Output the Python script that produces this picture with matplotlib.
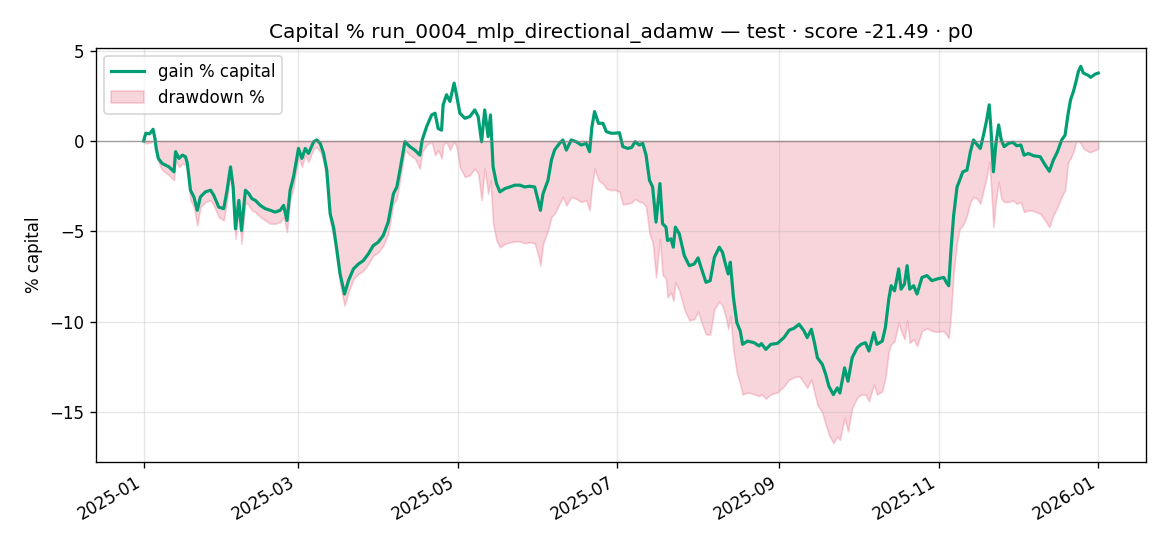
import numpy as np
import pandas as pd
import matplotlib
matplotlib.use("Agg")
import matplotlib.pyplot as plt
import matplotlib.dates as mdates

# days since 2025-01-01
days = [0.0, 0.8, 2.3, 3.6, 4.4, 4.8, 5.6, 7.1, 9.7, 11.6,
        12.2, 13.5, 14.8, 16.0, 16.7, 17.9, 19.2, 20.5, 21.7, 23.6,
        25.6, 26.8, 28.7, 30.6, 31.9, 33.2, 34.2, 35.1, 36.4, 37.4,
        38.9, 40.2, 41.4, 42.7, 44.6, 46.5, 48.4, 50.3, 52.2, 53.5,
        54.8, 56.0, 57.3, 59.2,
        60.5, 61.8, 63.0, 65.0, 66.2, 67.5, 68.8, 70.0, 71.3, 72.6,
        73.9, 75.1, 76.8, 78.3, 80.2, 82.1, 84.0, 85.9, 87.8, 89.7,
        91.6, 93.5, 95.5, 96.8, 98.0, 99.9, 101.8, 103.7, 105.6, 106.5,
        108.2, 110.1, 111.4, 112.6, 113.9, 114.5, 115.8, 117.1, 118.7, 119.6,
        120.9,
        122.8, 124.7, 126.6, 127.9, 129.2, 130.4, 131.7, 132.6, 133.6, 134.9,
        136.2, 138.1, 140.0, 141.9, 143.8, 145.7, 147.6, 149.5, 150.8, 151.7,
        152.7, 154.6, 155.9, 157.1, 159.0, 160.3, 161.6, 163.5, 165.4, 167.3,
        169.2, 170.5, 171.4, 172.4, 173.9, 175.6, 176.9, 178.8, 180.0, 181.9,
        183.2, 185.1, 186.6, 187.9, 189.5, 190.8, 192.1, 193.4, 194.6, 195.9,
        197.4, 198.4, 199.7, 200.3, 201.6, 202.5, 203.3, 204.8, 206.7, 208.6,
        210.5, 212.0, 213.1, 215.0, 216.6, 218.2, 220.1, 221.3, 222.6, 223.5,
        224.3, 225.5, 226.8, 228.1, 229.0, 230.9, 233.4, 235.3, 236.2, 237.9,
        239.8, 242.3,
        244.8, 246.8, 248.7, 250.6, 252.5, 253.7, 255.3, 256.6, 257.6, 259.5,
        260.8, 262.0, 263.7, 265.2, 266.2, 268.0, 269.3, 270.9, 272.8, 274.3,
        276.0, 277.3, 279.2, 280.4, 282.4, 283.6, 284.9, 285.8, 287.1, 288.7,
        289.6, 290.9, 291.9, 292.9, 294.4, 295.7, 297.6, 299.5, 301.4, 303.3,
        305.9, 306.9, 307.8, 308.7, 309.7, 311.0, 312.0, 313.2, 314.8, 316.1,
        317.3, 318.6, 319.9, 321.1, 322.2, 323.3, 323.9, 324.9, 325.8, 326.9,
        327.9, 329.0, 330.7, 332.3, 333.8, 335.4, 336.6, 338.3, 340.2, 342.8,
        344.7, 346.3, 347.8, 349.4, 351.0, 352.3, 353.5, 354.4, 355.5, 356.5,
        357.4, 358.3, 359.3, 361.2, 362.1, 363.8, 365.0]

gain = [0.0, 0.43, 0.40, 0.65, 0.06, -0.41, -0.96, -1.24, -1.43, -1.70,
        -0.59, -0.96, -0.78, -0.87, -1.24, -2.72, -3.09, -3.83, -3.09, -2.81,
        -2.72, -3.00, -3.65, -3.74, -2.72, -1.43, -2.54, -4.85, -3.28, -4.94,
        -2.72, -2.91, -3.19, -3.28, -3.56, -3.74, -3.83, -3.93, -3.83, -3.56,
        -4.39, -2.72, -1.98, -0.41,
        -0.96, -0.41, -0.69, -0.04, 0.06, -0.13, -0.69, -1.61, -4.02, -4.76,
        -6.06, -7.35, -8.46, -7.72, -7.07, -6.80, -6.61, -6.24, -5.78, -5.59,
        -5.22, -4.48, -2.91, -2.54, -1.61, -0.04, -0.31, -0.50, -0.78, 0.06,
        0.80, 1.44, 1.54, 0.69, 0.60, 2.00, 2.56, 2.19, 3.20, 2.56,
        1.54,
        1.26, 1.35, 1.72, 1.35, -0.04, 1.72, 0.24, 1.44, -1.43, -2.35,
        -2.81, -2.63, -2.54, -2.44, -2.44, -2.54, -2.50, -2.54, -3.28, -3.83,
        -2.91, -2.17, -1.06, -0.50, -0.13, 0.06, -0.50, 0.06, -0.04, -0.22,
        -0.13, -0.59, 0.80, 1.63, 0.98, 0.98, 0.52, 0.43, 0.43, 0.46,
        -0.31, -0.41, -0.35, -0.04, -0.22, -0.13, -0.78, -2.17, -2.54, -4.48,
        -2.35, -4.57, -4.76, -5.50, -5.41, -5.87, -4.76, -5.13, -6.33, -6.89,
        -6.80, -6.46, -6.98, -7.81, -7.72, -6.43, -5.87, -6.15, -6.89, -7.35,
        -6.70, -8.65, -10.04, -10.50, -11.24, -11.06, -11.15, -11.33, -11.20, -11.52,
        -11.24, -11.19,
        -10.87, -10.46, -10.35, -10.13, -10.50, -10.87, -10.41, -11.24, -11.98, -12.35,
        -12.91, -13.56, -14.02, -13.65, -13.93, -12.54, -13.28, -11.98, -11.43, -11.24,
        -11.15, -11.61, -10.59, -11.24, -11.06, -10.31, -8.74, -8.00, -8.28, -7.07,
        -8.19, -7.91, -6.89, -8.19, -8.00, -8.46, -7.54, -7.44, -7.72, -7.63,
        -7.54, -7.81, -8.00, -5.96, -4.11, -2.54, -2.17, -1.70, -1.61, -0.59,
        0.06, -0.19, -0.41, 0.33, 1.07, 2.00, 0.80, -1.70, -0.22, 0.89,
        0.06, -0.31, -0.13, -0.07, -0.26, -0.22, -0.78, -0.69, -0.81, -0.87,
        -1.33, -1.67, -1.06, -0.59, 0.06, 0.33, 1.54, 2.28, 2.74, 3.30,
        3.85, 4.13, 3.76, 3.63, 3.52, 3.70, 3.76]

drawdown = [0.0, -0.13, -0.09, -0.03, -0.13, -0.69, -1.15, -1.61, -1.89, -2.17,
            -1.06, -1.43, -1.24, -1.33, -1.70, -3.28, -3.65, -4.67, -3.65, -3.37,
            -3.28, -3.56, -4.20, -4.39, -3.28, -1.89, -3.09, -5.41, -3.83, -5.69,
            -3.37, -3.56, -3.83, -3.93, -4.20, -4.39, -4.57, -4.57, -4.48, -4.20,
            -5.04, -3.28, -2.54, -0.87,
            -1.43, -0.78, -1.15, -0.41, -0.35, -0.59, -1.15, -2.17, -4.48, -5.31,
            -6.61, -7.91, -9.11, -8.37, -7.63, -7.35, -7.17, -6.80, -6.33, -6.15,
            -5.78, -5.13, -3.46, -3.19, -2.17, -0.50, -0.78, -0.96, -1.52, -0.59,
            -0.22, -0.04, -0.78, -0.50, -0.96, -0.22, -0.04, -0.50, -0.04, -0.30,
            -1.43,
            -1.98, -1.89, -1.52, -1.80, -3.28, -1.52, -2.91, -2.17, -4.57, -5.50,
            -5.87, -5.69, -5.60, -5.55, -5.55, -5.65, -5.60, -5.65, -6.30, -6.89,
            -5.69, -4.94, -4.20, -4.02, -3.46, -3.09, -3.56, -3.09, -3.19, -3.37,
            -3.28, -3.83, -2.54, -1.52, -2.17, -2.35, -2.63, -2.72, -2.69, -2.80,
            -3.50, -3.46, -3.40, -3.20, -3.35, -3.40, -3.63, -5.13, -5.60, -7.54,
            -5.41, -7.40, -7.60, -8.65, -8.37, -8.83, -7.81, -8.28, -9.30, -9.91,
            -9.85, -9.43, -9.95, -10.69, -10.69, -9.30, -8.87, -9.11, -9.76, -10.41,
            -9.67, -11.61, -12.81, -13.46, -14.02, -13.90, -14.00, -14.10, -14.00, -14.24,
            -14.00, -13.90,
            -13.56, -13.19, -13.06, -13.00, -13.37, -13.65, -13.19, -14.02, -14.57, -15.04,
            -15.69, -16.24, -16.70, -16.33, -16.52, -15.31, -16.06, -14.76, -14.20, -14.02,
            -14.02, -14.39, -13.46, -14.02, -13.83, -13.09, -11.61, -11.24, -11.06, -10.04,
            -10.50, -10.96, -9.91, -11.15, -10.96, -11.33, -10.50, -10.35, -10.50, -10.55,
            -10.50, -10.70, -10.90, -9.50, -7.26, -5.59, -4.85, -4.67, -4.11, -3.37,
            -3.09, -3.19, -3.46, -2.72, -2.07, -1.15, -2.26, -4.76, -3.37, -2.26,
            -3.19, -3.37, -3.37, -3.28, -3.46, -3.37, -3.93, -3.83, -3.87, -4.02,
            -4.39, -4.76, -4.11, -3.65, -3.09, -2.72, -1.15, -0.96, -0.59, -0.07,
            0.0, -0.13, -0.41, -0.59, -0.61, -0.50, -0.41]

assert len(days) == len(gain) == len(drawdown)

dates = pd.Timestamp("2025-01-01") + pd.to_timedelta(np.array(days), unit="D")

fig, ax = plt.subplots(figsize=(9.75, 4.55), dpi=120)
fig.subplots_adjust(left=0.082, right=0.9795, top=0.913, bottom=0.154)

ax.fill_between(dates, drawdown, 0, color="crimson", alpha=0.18, label="drawdown %")
ax.plot(dates, gain, color="#029e73", lw=1.9, label="gain % capital")
ax.axhline(0, color="gray", lw=0.8, alpha=0.7)

ax.xaxis.set_major_locator(mdates.MonthLocator(bymonth=[1, 3, 5, 7, 9, 11]))
ax.xaxis.set_major_formatter(mdates.DateFormatter("%Y-%m"))
plt.setp(ax.get_xticklabels(), rotation=30, ha="right")

ax.grid(True, alpha=0.3)
ax.set_ylabel("% capital")
ax.set_title("Capital % run_0004_mlp_directional_adamw — test · score -21.49 · p0")

handles, labels = ax.get_legend_handles_labels()
ax.legend(handles[::-1], labels[::-1], loc="upper left")

plt.savefig("out.png")
